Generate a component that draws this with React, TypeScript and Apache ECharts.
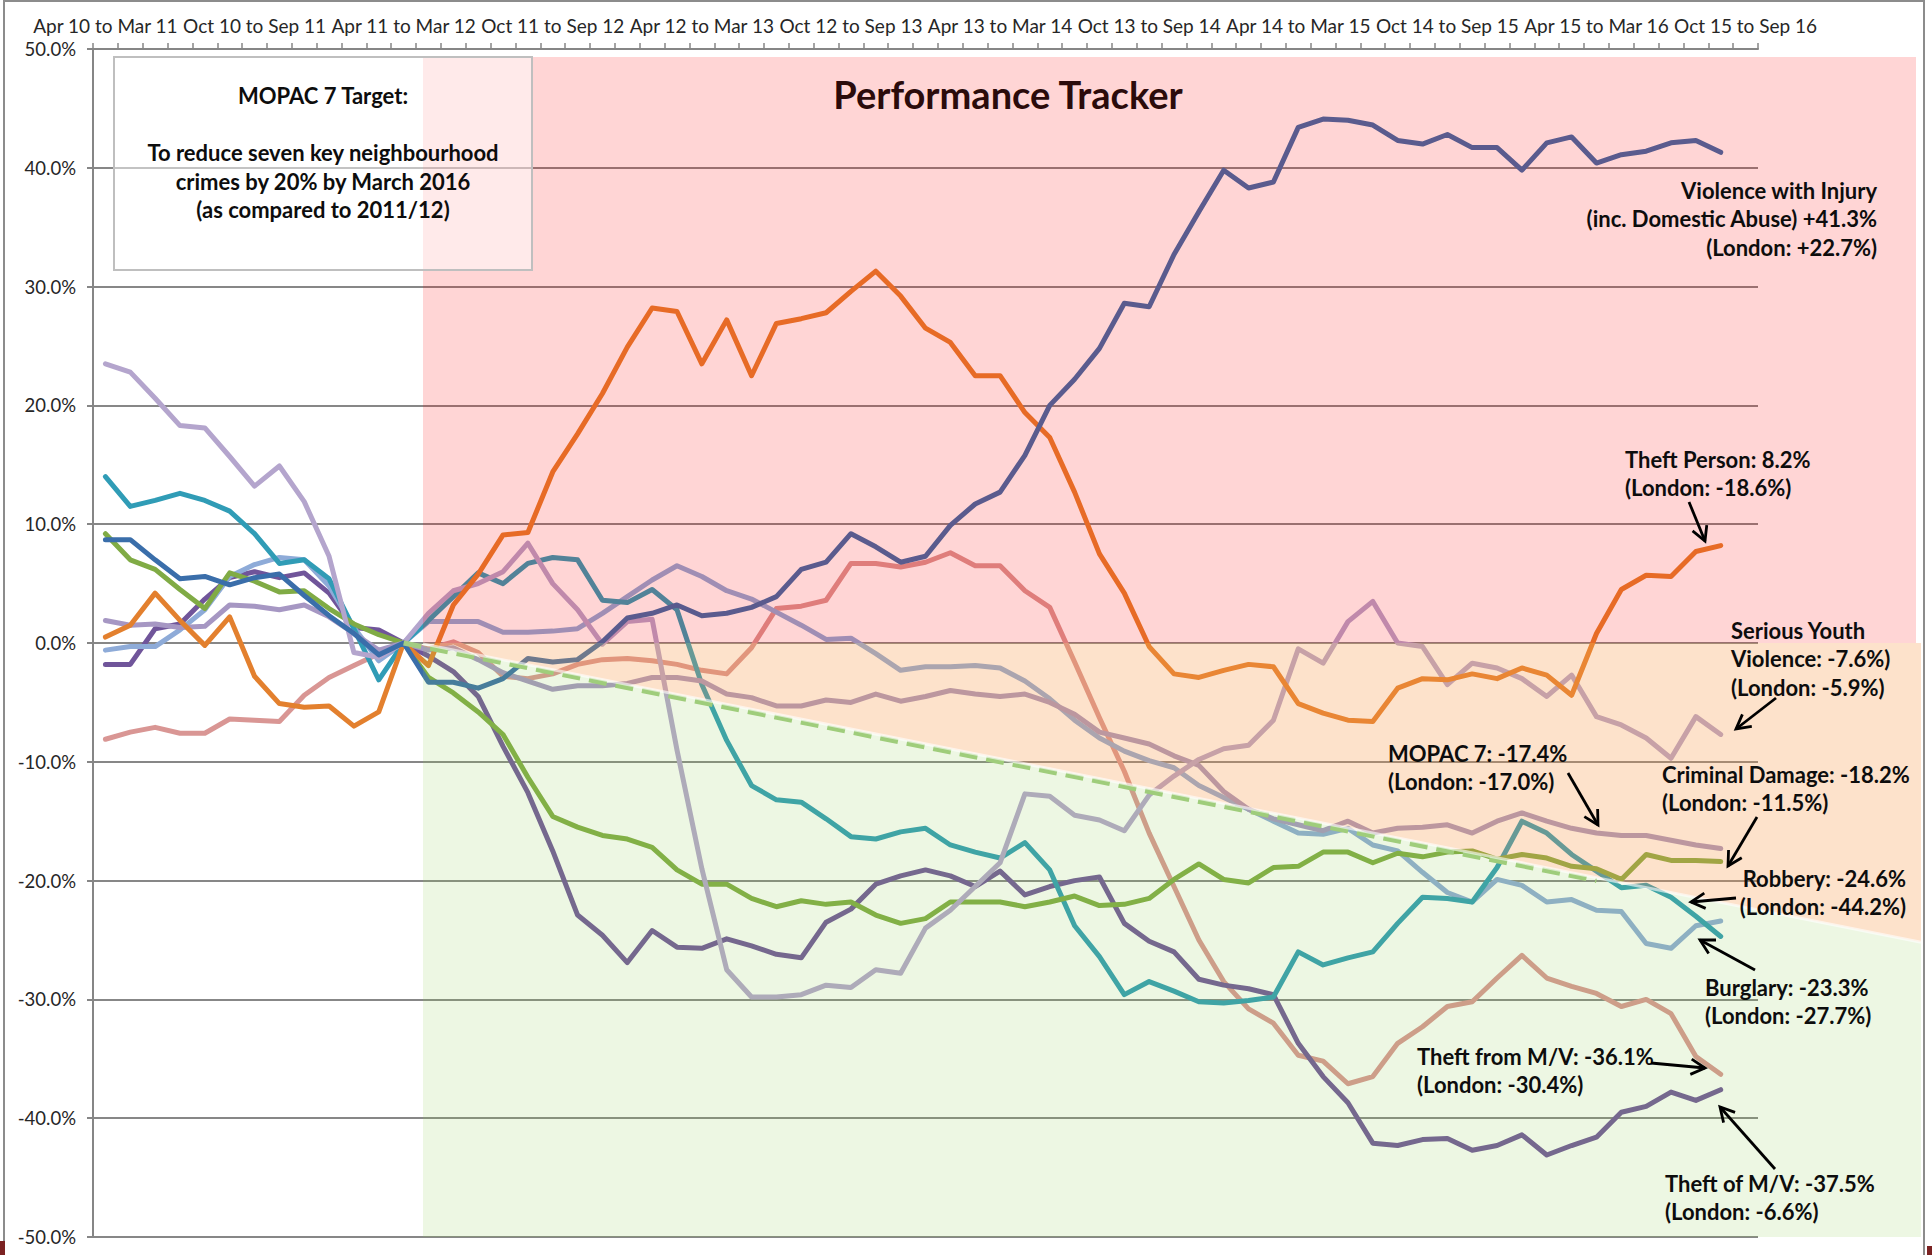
import React, { useEffect, useRef } from "react";
import * as echarts from "echarts";

// ---------- categories (rolling 12-month periods) ----------
const MONTHS = ["Jan", "Feb", "Mar", "Apr", "May", "Jun", "Jul", "Aug", "Sep", "Oct", "Nov", "Dec"];
const CATEGORIES: string[] = [];
for (let i = 0; i < 67; i++) {
  const s = 3 + i;
  const e = s + 11;
  CATEGORIES.push(
    `${MONTHS[s % 12]} ${10 + Math.floor(s / 12)} to ${MONTHS[e % 12]} ${10 + Math.floor(e / 12)}`
  );
}

const Y_MIN = -50;
const Y_MAX = 50;
const Y_STEP = 10;

// ---------- series values (% change vs 2011/12) ----------
const VIOLENCE = [
  8.7, 8.7, 7.0, 5.4, 5.6, 4.9, 5.5, 5.8, 4.0, 2.3, 0.8, -1.0, 0,
  -3.3, -3.3, -3.8, -3.0, -1.3, -1.6, -1.4, 0.1, 2.1, 2.5, 3.2, 2.3,
  2.5, 3.0, 3.9, 6.2, 6.8, 9.2, 8.1, 6.8, 7.3, 9.9, 11.7, 12.7, 15.8, 20.0, 22.2, 24.8, 28.6, 28.3, 32.7, 36.3, 39.8, 38.3, 38.8,
  43.4, 44.1, 44.0, 43.6, 42.3, 42.0, 42.8, 41.7, 41.7, 39.8, 42.1, 42.6, 40.4, 41.1, 41.4, 42.1, 42.3, 41.3,
];
const THEFT_PERSON = [
  0.5, 1.5, 4.2, 1.9, -0.2, 2.2, -2.8, -5.1, -5.4, -5.3, -7.0, -5.8, 0,
  -1.9, 3.2, 5.8, 9.1, 9.3, 14.4, 17.6, 21.0, 24.9, 28.2, 27.9, 23.5,
  27.2, 22.5, 26.9, 27.3, 27.8, 29.6, 31.3, 29.2, 26.5, 25.3, 22.5, 22.5, 19.4, 17.3, 12.7, 7.5, 4.2, -0.3, -2.6, -2.9, -2.3, -1.8, -2.0,
  -5.1, -5.9, -6.5, -6.6, -3.8, -3.0, -3.1, -2.6, -3.0, -2.1, -2.7, -4.4, 0.8, 4.5, 5.7, 5.6, 7.7, 8.2,
];
const CRIMINAL_DAMAGE = [
  9.2, 7.0, 6.2, 4.5, 2.9, 5.9, 5.2, 4.3, 4.4, 2.9, 1.6, 0.7, 0,
  -2.9, -4.2, -5.8, -7.7, -11.3, -14.6, -15.5, -16.2, -16.5, -17.2, -19.1, -20.3,
  -20.3, -21.5, -22.2, -21.7, -22.0, -21.8, -22.9, -23.6, -23.2, -21.8, -21.8, -21.8, -22.2, -21.8, -21.3, -22.1, -22.0, -21.5, -19.9, -18.6, -19.9, -20.2, -18.9,
  -18.8, -17.6, -17.6, -18.5, -17.7, -18.0, -17.6, -17.5, -18.2, -17.8, -18.1, -18.8, -19.0, -19.9, -17.8, -18.3, -18.3, -18.4,
];
const ROBBERY = [
  14.0, 11.5, 12.0, 12.6, 12.0, 11.1, 9.2, 6.7, 7.0, 5.4, 1.2, -3.1, 0,
  1.9, 3.9, 5.9, 5.0, 6.7, 7.2, 7.0, 3.6, 3.4, 4.5, 2.8, -3.5,
  -8.2, -12.0, -13.2, -13.4, -14.8, -16.3, -16.5, -15.9, -15.6, -17.0, -17.6, -18.1, -16.8, -19.1, -23.8, -26.4, -29.6, -28.5, -29.3, -30.2, -30.3, -30.1, -29.8,
  -26.0, -27.1, -26.5, -26.0, -23.6, -21.4, -21.5, -21.8, -18.9, -15.0, -16.0, -17.8, -19.2, -20.6, -20.4, -21.4, -23.0, -24.7,
];
const THEFT_OF_MV = [
  -1.8, -1.8, 1.2, 1.6, 3.7, 5.5, 6.0, 5.5, 5.9, 4.2, 1.3, 1.1, 0,
  -1.1, -2.4, -4.5, -8.7, -12.6, -17.5, -22.9, -24.6, -26.9, -24.2, -25.6, -25.7,
  -24.9, -25.5, -26.2, -26.5, -23.5, -22.4, -20.3, -19.6, -19.1, -19.6, -20.5, -19.2, -21.2, -20.5, -20.0, -19.7, -23.6, -25.1, -26.0, -28.3, -28.8, -29.1, -29.6,
  -33.7, -36.5, -38.7, -42.1, -42.3, -41.8, -41.7, -42.7, -42.3, -41.4, -43.1, -42.3, -41.6, -39.5, -39.0, -37.8, -38.5, -37.6,
];
const BURGLARY = [
  -0.6, -0.3, -0.3, 1.1, 2.8, 5.6, 6.6, 7.2, 7.0, 4.8, 1.3, -1.5, 0,
  1.8, 1.8, 1.8, 0.9, 0.9, 1.0, 1.2, 2.5, 3.9, 5.3, 6.5, 5.6,
  4.4, 3.7, 2.6, 1.5, 0.3, 0.4, -0.9, -2.3, -2.0, -2.0, -1.9, -2.1, -3.2, -4.7, -6.5, -8.0, -9.1, -9.9, -10.5, -12.0, -13.0, -14.0, -15.0,
  -16.0, -16.1, -15.6, -17.0, -17.5, -19.3, -21.0, -21.8, -19.9, -20.4, -21.8, -21.6, -22.5, -22.6, -25.3, -25.7, -23.8, -23.4,
];
const MOPAC7 = [
  1.9, 1.5, 1.6, 1.3, 1.4, 3.2, 3.1, 2.8, 3.2, 2.2, 0.8, -0.6, 0,
  -0.6, -0.4, -1.4, -2.5, -3.2, -3.9, -3.6, -3.6, -3.4, -2.9, -2.9, -3.2,
  -4.3, -4.6, -5.3, -5.3, -4.8, -5.0, -4.3, -4.9, -4.5, -4.0, -4.3, -4.5, -4.3, -5.0, -6.0, -7.5, -8.0, -8.5, -9.5, -10.3, -12.5, -14.0, -14.8,
  -15.3, -15.8, -15.0, -16.0, -15.6, -15.5, -15.3, -16.0, -15.0, -14.3, -15.0, -15.6, -16.0, -16.2, -16.2, -16.6, -17.0, -17.3,
];
const SERIOUS_YOUTH_VIOLENCE = [
  23.5, 22.8, 20.6, 18.3, 18.1, 15.7, 13.2, 14.9, 11.9, 7.3, -0.8, -1.2, 0,
  2.5, 4.4, 5.0, 6.0, 8.4, 5.0, 2.8, -0.1, 1.8, 2.0, -9.0, -19.0,
  -27.5, -29.8, -29.8, -29.6, -28.8, -29.0, -27.5, -27.8, -24.0, -22.5, -20.5, -18.5, -12.7, -12.9, -14.5, -14.9, -15.8, -12.8, -11.2, -9.8, -8.9, -8.6, -6.5,
  -0.5, -1.7, 1.8, 3.5, 0.0, -0.3, -3.5, -1.7, -2.1, -3.0, -4.5, -2.7, -6.2, -6.9, -8.0, -9.7, -6.2, -7.7,
];
const THEFT_FROM_MV = [
  -8.1, -7.5, -7.1, -7.6, -7.6, -6.4, -6.5, -6.6, -4.4, -2.9, -1.9, -0.9, 0,
  -0.5, 0.1, -0.8, -2.8, -3.0, -2.6, -1.8, -1.4, -1.3, -1.5, -1.8, -2.3,
  -2.6, -0.4, 2.9, 3.1, 3.6, 6.7, 6.7, 6.4, 6.8, 7.6, 6.5, 6.5, 4.4, 3.0, -1.6, -6.3, -10.8, -16.0, -20.5, -25.0, -28.5, -30.8, -32.0,
  -34.7, -35.2, -37.1, -36.5, -33.7, -32.3, -30.6, -30.2, -28.2, -26.3, -28.2, -28.9, -29.5, -30.6, -30.0, -31.2, -34.8, -36.3,
];

// MOPAC 7 target trajectory: 0% at baseline (Apr 11 to Mar 12), -20% by Mar 2016
const TARGET_INDEX = [12, 60];
const TARGET_VALUE = [0, -20];

const SERIES = [
  { name: "Theft from M/V", data: THEFT_FROM_MV, color: "#d99694" },
  { name: "Theft of M/V", data: THEFT_OF_MV, color: "#70559a" },
  { name: "Burglary", data: BURGLARY, color: "#8eabd8" },
  { name: "Robbery", data: ROBBERY, color: "#309cb6" },
  { name: "Criminal Damage", data: CRIMINAL_DAMAGE, color: "#80ab45" },
  { name: "MOPAC 7", data: MOPAC7, color: "#a697c3" },
  { name: "Serious Youth Violence", data: SERIOUS_YOUTH_VIOLENCE, color: "#b4a5cd" },
  { name: "Theft Person", data: THEFT_PERSON, color: "#e3802e" },
  { name: "Violence with Injury", data: VIOLENCE, color: "#3a6eaa" },
];

// ---------- annotation layout ----------
const ANNOTATIONS = [
  { lines: ["Violence with Injury", "(inc. Domestic Abuse) +41.3%", "(London: +22.7%)"], x: 1877, y: 190, align: "right" },
  { lines: ["Theft Person: 8.2%", "(London: -18.6%)"], x: 1625, y: 459, align: "left" },
  { lines: ["Serious Youth", "Violence: -7.6%)", "(London: -5.9%)"], x: 1731, y: 630, align: "left" },
  { lines: ["MOPAC 7: -17.4%", "(London: -17.0%)"], x: 1388, y: 753, align: "left" },
  { lines: ["Criminal Damage: -18.2%", "(London: -11.5%)"], x: 1662, y: 774, align: "left" },
  { lines: ["Robbery: -24.6%", "(London: -44.2%)"], x: 1906, y: 878, align: "right" },
  { lines: ["Burglary: -23.3%", "(London: -27.7%)"], x: 1705, y: 987, align: "left" },
  { lines: ["Theft from M/V: -36.1%", "(London: -30.4%)"], x: 1417, y: 1056, align: "left" },
  { lines: ["Theft of M/V: -37.5%", "(London: -6.6%)"], x: 1665, y: 1183, align: "left" },
];
const ARROWS = [
  { from: [1689, 502], to: [1705, 541] },
  { from: [1776, 698], to: [1736, 729] },
  { from: [1568, 773], to: [1598, 825] },
  { from: [1757, 817], to: [1728, 866] },
  { from: [1736, 898], to: [1691, 902] },
  { from: [1755, 970], to: [1700, 940] },
  { from: [1651, 1063], to: [1705, 1068] },
  { from: [1775, 1169], to: [1720, 1107] },
];
const BOX_LINES = [
  { text: "MOPAC 7 Target:", y: 95 },
  { text: "To reduce seven key neighbourhood", y: 152 },
  { text: "crimes by 20% by March 2016", y: 181 },
  { text: "(as compared to 2011/12)", y: 209 },
];

const FONT = "Lato";
const LINE_H = 28.5;
const ANN_SIZE = 22;

function arrowEls(from: number[], to: number[]) {
  const [x1, y1] = from;
  const [x2, y2] = to;
  const ang = Math.atan2(y2 - y1, x2 - x1);
  const L = 16;
  const a = 0.5;
  const p1 = [x2 - L * Math.cos(ang - a), y2 - L * Math.sin(ang - a)];
  const p2 = [x2 - L * Math.cos(ang + a), y2 - L * Math.sin(ang + a)];
  return [
    { type: "line", z: 20, silent: true, shape: { x1, y1, x2, y2 }, style: { stroke: "#000", lineWidth: 2.8 } },
    {
      type: "polyline",
      z: 20,
      silent: true,
      shape: { points: [p1, [x2, y2], p2] },
      style: { stroke: "#000", lineWidth: 2.8, fill: "none", lineJoin: "miter" },
    },
  ];
}

function textEl(text: string, x: number, y: number, size: number, align: string, fill = "#0d0d0d", weight = "bold") {
  return {
    type: "text",
    z: 20,
    silent: true,
    x,
    y,
    style: {
      text,
      fontSize: size,
      fontFamily: FONT,
      fontWeight: weight,
      fill,
      align,
      textAlign: align,
      verticalAlign: "middle",
      textVerticalAlign: "middle",
    },
  };
}

export default function App() {
  const ref = useRef<HTMLDivElement>(null);

  useEffect(() => {
    document.body.style.margin = "0";
    if (!ref.current) return;
    const chart = echarts.init(ref.current, undefined, { renderer: "svg" });

    const series: any[] = SERIES.map((s, i) => ({
      name: s.name,
      type: "line",
      data: s.data,
      showSymbol: false,
      symbol: "none",
      silent: true,
      z: 2,
      lineStyle: { color: s.color, width: 5, cap: "round", join: "round" },
      ...(i === 0
        ? {
            markLine: {
              silent: true,
              symbol: ["none", "none"],
              label: { show: false },
              lineStyle: { color: "#a3cd83", width: 5, type: [18, 9] },
              data: [
                [
                  { coord: [TARGET_INDEX[0], TARGET_VALUE[0]] },
                  { coord: [TARGET_INDEX[1], TARGET_VALUE[1]] },
                ],
              ],
            },
          }
        : {}),
    }));

    chart.setOption({
      animation: false,
      backgroundColor: "#ffffff",
      textStyle: { fontFamily: FONT },
      grid: { left: 93, top: 49, width: 1665, height: 1188, containLabel: false },
      xAxis: {
        type: "category",
        data: CATEGORIES,
        position: "top",
        boundaryGap: true,
        axisLine: { onZero: false, lineStyle: { color: "#868686", width: 2 } },
        axisTick: { show: true, interval: 0, length: 6, lineStyle: { color: "#868686", width: 1.5 } },
        axisLabel: { interval: 5, margin: 14, color: "#262626", fontFamily: FONT, fontSize: 19 },
        splitLine: { show: false },
      },
      yAxis: {
        type: "value",
        min: Y_MIN,
        max: Y_MAX,
        interval: Y_STEP,
        axisLine: { show: true, lineStyle: { color: "#868686", width: 2 } },
        axisTick: { show: true, length: 6, lineStyle: { color: "#868686", width: 2 } },
        axisLabel: {
          margin: 17,
          color: "#262626",
          fontFamily: FONT,
          fontSize: 18.5,
          formatter: (v: number) => v.toFixed(1) + "%",
        },
        splitLine: { show: true, lineStyle: { color: "#878787", width: 2 } },
      },
      series,
    });

    // geometry of background performance zones, following the target trajectory
    const p0 = chart.convertToPixel({ gridIndex: 0 }, [TARGET_INDEX[0], TARGET_VALUE[0]]) as number[];
    const p1 = chart.convertToPixel({ gridIndex: 0 }, [TARGET_INDEX[1], TARGET_VALUE[1]]) as number[];
    const zeroY = (chart.convertToPixel({ gridIndex: 0 }, [0, 0]) as number[])[1];
    const bottomY = (chart.convertToPixel({ gridIndex: 0 }, [0, Y_MIN]) as number[])[1];
    const slope = (p1[1] - p0[1]) / (p1[0] - p0[0]);
    const yAt = (x: number) => p0[1] + slope * (x - p0[0]) - 3;
    const ZL = 423;
    const ZR = 1921;
    const ZT = 57;

    const graphic: any[] = [
      {
        type: "rect",
        z: 10,
        silent: true,
        shape: { x: ZL, y: ZT, width: 1916 - ZL, height: zeroY - ZT },
        style: { fill: "rgba(255,0,0,0.165)" },
      },
      {
        type: "polygon",
        z: 10,
        silent: true,
        shape: { points: [[ZL, zeroY], [ZR, zeroY], [ZR, yAt(ZR)], [ZL, yAt(ZL)]] },
        style: { fill: "rgba(247,150,70,0.28)" },
      },
      {
        type: "polygon",
        z: 10,
        silent: true,
        shape: { points: [[ZL, yAt(ZL)], [ZR, yAt(ZR)], [ZR, bottomY], [ZL, bottomY]] },
        style: { fill: "rgba(146,208,80,0.16)" },
      },
      {
        type: "line",
        z: 11,
        silent: true,
        shape: { x1: ZL, y1: yAt(ZL), x2: ZR, y2: yAt(ZR) },
        style: { stroke: "rgba(255,255,255,0.6)", lineWidth: 3 },
      },
      {
        type: "rect",
        z: 12,
        silent: true,
        shape: { x: 114, y: 57, width: 418, height: 213 },
        style: { fill: "rgba(255,255,255,0.5)", stroke: "#bfbfbf", lineWidth: 2 },
      },
      ...BOX_LINES.map((b) => textEl(b.text, 323, b.y, ANN_SIZE, "center")),
      textEl("Performance Tracker", 1008, 94, 38, "center", "#2b0b0b"),
    ];

    ANNOTATIONS.forEach((a) => {
      a.lines.forEach((t, k) => graphic.push(textEl(t, a.x, a.y + k * LINE_H, ANN_SIZE, a.align)));
    });
    ARROWS.forEach((a) => graphic.push(...arrowEls(a.from, a.to)));

    graphic.push({
      type: "rect",
      z: 30,
      silent: true,
      shape: { x: 4, y: 1, width: 1920, height: 1262 },
      style: { fill: "none", stroke: "#8c8c8c", lineWidth: 2 },
    });
    graphic.push({ type: "rect", z: 30, silent: true, shape: { x: 0, y: 1241, width: 5, height: 14 }, style: { fill: "#7b2222" } });
    graphic.push({ type: "rect", z: 30, silent: true, shape: { x: 1927, y: 1246, width: 5, height: 9 }, style: { fill: "#7b2222" } });

    chart.setOption({ graphic });

    return () => chart.dispose();
  }, []);

  return <div ref={ref} style={{ width: 1932, height: 1255 }} />;
}
